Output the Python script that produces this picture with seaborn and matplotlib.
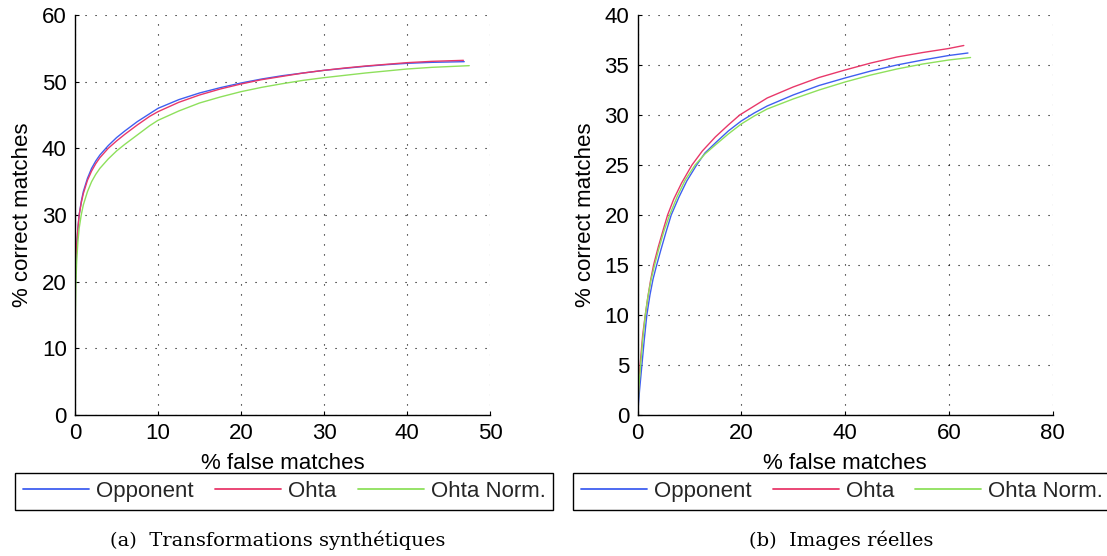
import numpy as np
import pandas as pd
import seaborn as sns
import matplotlib
matplotlib.use("Agg")
import matplotlib.pyplot as plt
from matplotlib.lines import Line2D

# ---------------- data ----------------
series_names = ["Opponent", "Ohta", "Ohta Norm."]
series_colors = ["#3f5ff0", "#e8386a", "#8ee05c"]

# (a) Transformations synthétiques
a_opp_x = [0, 0.05, 0.1, 0.2, 0.35, 0.5, 0.75, 1, 1.5, 2, 2.5, 3, 4, 5, 6, 7.5, 9, 10, 12.5, 15,
           17.5, 20, 22.5, 25, 27.5, 30, 32.5, 35, 37.5, 40, 43, 46.9]
a_opp_y = [15, 20, 22.5, 25, 28, 30, 32, 33.5, 35.5, 37, 38.1, 39, 40.4, 41.6, 42.6, 44, 45.2, 46.0,
           47.3, 48.3, 49.1, 49.8, 50.4, 50.9, 51.3, 51.7, 52.0, 52.3, 52.55, 52.75, 52.9, 53.0]
a_oht_x = [0, 0.05, 0.1, 0.2, 0.35, 0.5, 0.75, 1, 1.5, 2, 2.5, 3, 4, 5, 6, 7.5, 9, 10, 12.5, 15,
           17.5, 20, 22.5, 25, 27.5, 30, 32.5, 35, 37.5, 40, 43, 46.8]
a_oht_y = [17, 21, 23, 25.5, 28, 30, 31.8, 33.2, 35.2, 36.6, 37.7, 38.6, 40.0, 41.1, 42.1, 43.5, 44.8,
           45.5, 46.9, 48.0, 48.9, 49.65, 50.3, 50.8, 51.3, 51.7, 52.05, 52.35, 52.6, 52.85, 53.05, 53.2]
a_ohn_x = [0, 0.02, 0.05, 0.1, 0.2, 0.35, 0.5, 0.75, 1, 1.5, 2, 2.5, 3, 4, 5, 6, 7.5, 9, 10, 12.5,
           15, 17.5, 20, 22.5, 25, 27.5, 30, 32.5, 35, 37.5, 40, 43, 47.5]
a_ohn_y = [0, 12, 16, 19.5, 23, 26, 28, 30, 31.5, 33.5, 35, 36.1, 37, 38.4, 39.6, 40.6, 42.0, 43.4,
           44.2, 45.6, 46.8, 47.7, 48.5, 49.15, 49.7, 50.2, 50.6, 50.95, 51.3, 51.6, 51.9, 52.15, 52.4]

# (b) Images réelles
b_opp_x = [0, 0.4, 0.85, 1.3, 1.8, 2.4, 3, 3.7, 4.5, 5.5, 6.5, 8, 9.5, 11.4, 13, 15, 17.5, 20,
           22.5, 25, 30, 35, 40, 45, 50, 55, 60, 63.7]
b_opp_y = [0, 2.5, 5, 7.5, 10, 12, 13.6, 15, 16.5, 18.3, 20, 21.8, 23.4, 25, 26.2, 27.2, 28.4, 29.4,
           30.2, 30.9, 32.0, 32.95, 33.7, 34.4, 35.0, 35.5, 35.95, 36.2]
b_oht_x = [0, 0.25, 0.5, 1, 1.5, 2, 2.5, 3.1, 4, 5, 5.8, 7, 8.5, 10.5, 12.5, 15, 17.5, 19.7, 22.5,
           25, 30, 35, 40, 45, 50, 55, 60, 62.9]
b_oht_y = [0, 3, 5, 8, 10, 11.8, 13.4, 15, 16.8, 18.6, 20, 21.6, 23.2, 25, 26.4, 27.8, 29, 30, 30.9,
           31.7, 32.8, 33.75, 34.5, 35.2, 35.8, 36.25, 36.65, 36.95]
b_ohn_x = [0, 0.3, 0.6, 1, 1.5, 2, 2.6, 3.3, 4.1, 5.1, 6.2, 7.7, 9.2, 11.1, 13, 15, 17.5, 20, 22.5,
           25, 30, 35, 40, 45, 50, 55, 60, 64.2]
b_ohn_y = [0, 3, 5, 7.5, 10, 11.8, 13.5, 15, 16.6, 18.4, 20, 21.9, 23.5, 25, 26.1, 27.0, 28.1, 29.1,
           29.9, 30.6, 31.6, 32.5, 33.3, 34.0, 34.6, 35.1, 35.5, 35.75]

a_xticks = [0, 10, 20, 30, 40, 50]
a_yticks = [0, 10, 20, 30, 40, 50, 60]
b_xticks = [0, 20, 40, 60, 80]
b_yticks = [0, 5, 10, 15, 20, 25, 30, 35, 40]

xlabel = "% false matches"
ylabel = "% correct matches"
captions = ["(a)  Transformations synthétiques", "(b)  Images réelles"]

# ---------------- styling ----------------
sns.set_theme(style="white")
plt.rcParams["font.family"] = ["Liberation Sans", "DejaVu Sans"]

W, H = 1107, 556
fig = plt.figure(figsize=(W / 100, H / 100), dpi=100)

def frac_ax(x0, x1, y0, y1):
    return fig.add_axes([x0 / W, 1 - y1 / H, (x1 - x0) / W, (y1 - y0) / H])

ax_a = frac_ax(75, 490, 15, 415)
ax_b = frac_ax(637.5, 1052.5, 15, 415)

def make_df(xs_list, ys_list):
    frames = []
    for name, xs, ys in zip(series_names, xs_list, ys_list):
        frames.append(pd.DataFrame({"x": xs, "y": ys, "series": name}))
    return pd.concat(frames, ignore_index=True)

df_a = make_df([a_opp_x, a_oht_x, a_ohn_x], [a_opp_y, a_oht_y, a_ohn_y])
df_b = make_df([b_opp_x, b_oht_x, b_ohn_x], [b_opp_y, b_oht_y, b_ohn_y])

palette = dict(zip(series_names, series_colors))

for ax, df, xt, yt in [(ax_a, df_a, a_xticks, a_yticks), (ax_b, df_b, b_xticks, b_yticks)]:
    sns.lineplot(data=df, x="x", y="y", hue="series", palette=palette, sort=False,
                 estimator=None, linewidth=1.0, legend=False, ax=ax)
    ax.set_xlim(xt[0], xt[-1])
    ax.set_ylim(yt[0], yt[-1])
    ax.set_xticks(xt)
    ax.set_yticks(yt)
    ax.set_xticklabels([str(v) for v in xt])
    ax.set_yticklabels([str(v) for v in yt])
    ax.grid(True, color="black", linestyle=(0, (1, 8)), linewidth=0.8)
    for s in ["top", "right"]:
        ax.spines[s].set_visible(False)
    for s in ["left", "bottom"]:
        ax.spines[s].set_color("black")
        ax.spines[s].set_linewidth(1.0)
    ax.tick_params(direction="in", length=3, width=0.8, colors="black",
                   labelsize=16, pad=6, left=True, bottom=True)
    ax.set_xlabel(xlabel, fontsize=16, labelpad=6, color="black")
    ax.set_ylabel(ylabel, fontsize=16, labelpad=6, color="black")
    ax.set_facecolor("white")

# legends
handles = [Line2D([], [], color=c, linewidth=1.3) for c in series_colors]
for cx in [284.3, 842]:
    leg = fig.legend(handles, series_names, loc="center", bbox_to_anchor=(cx / W, 1 - 491.3 / H),
                     ncol=3, fontsize=16, frameon=True, fancybox=False, shadow=False,
                     handlelength=2.97, handletextpad=0.32, columnspacing=0.95,
                     borderpad=0.35, borderaxespad=0)
    leg.get_frame().set_edgecolor("black")
    leg.get_frame().set_linewidth(1.0)
    leg.get_frame().set_facecolor("white")
    leg.get_frame().set_alpha(1)

# captions
fig.text(278 / W, 1 - 540 / H, captions[0], ha="center", va="center",
         fontsize=14, family=["DejaVu Serif"], color="black")
fig.text(841 / W, 1 - 540 / H, captions[1], ha="center", va="center",
         fontsize=14, family=["DejaVu Serif"], color="black")

fig.savefig("out.png", dpi=100, facecolor="white")
